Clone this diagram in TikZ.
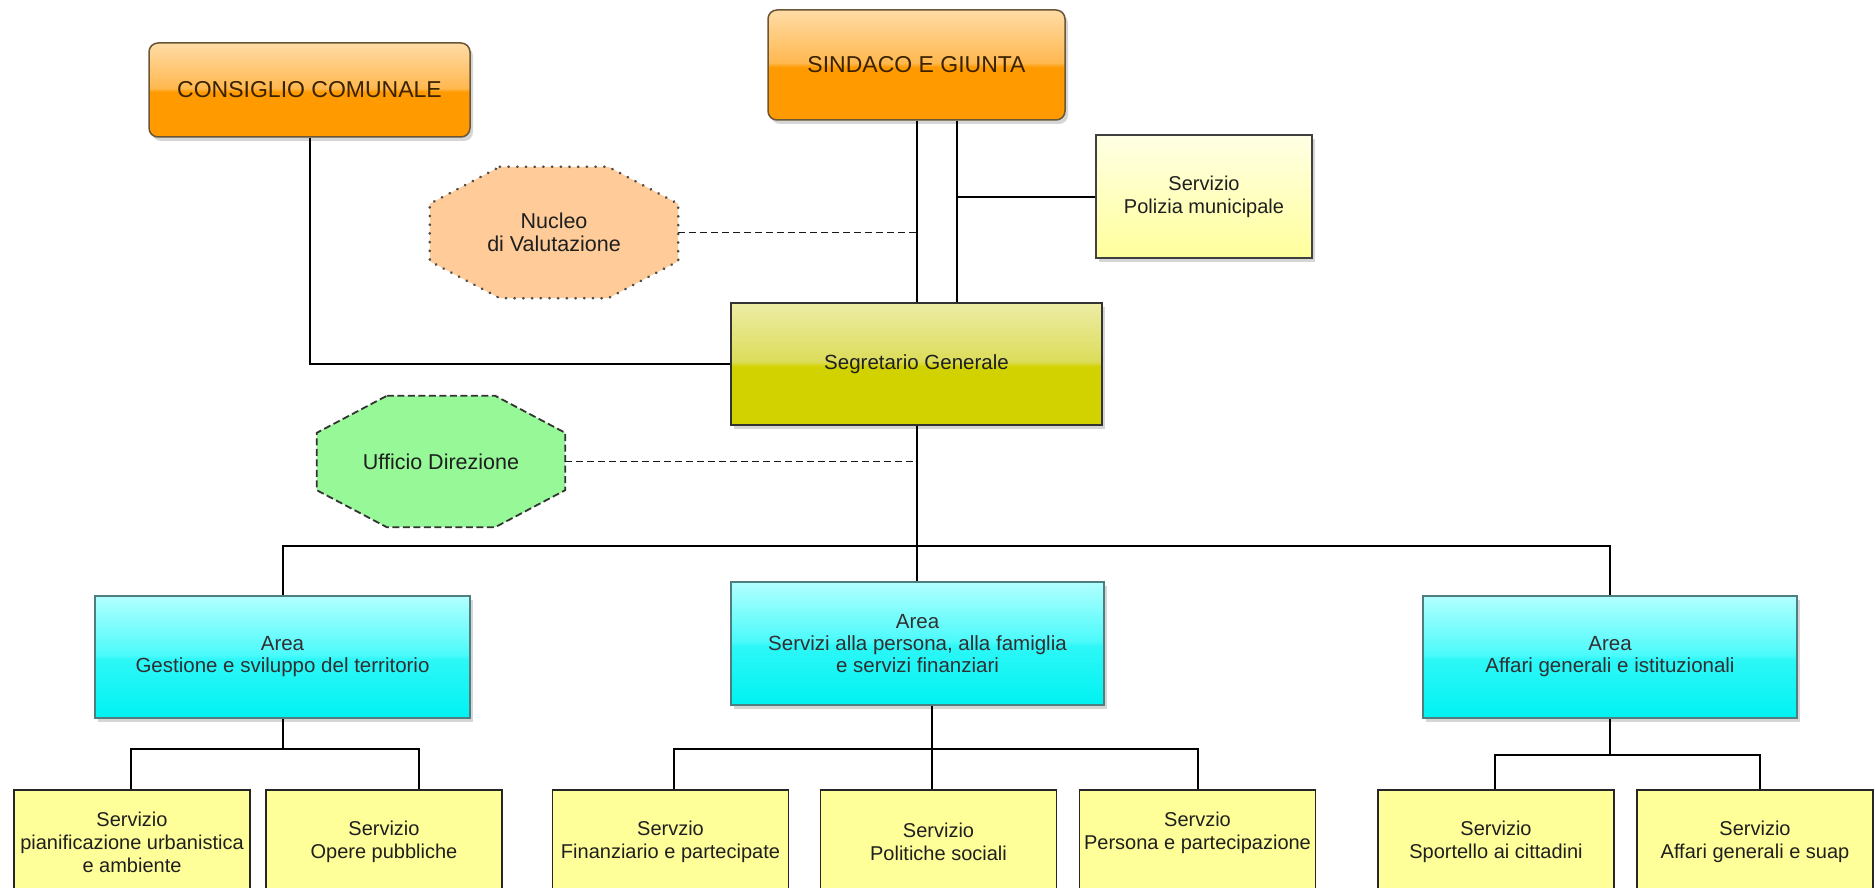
\documentclass[tikz,border=0pt]{standalone}
\usepackage{fontspec}
\setmainfont{Liberation Sans}
\usetikzlibrary{calc,shadows}
\pgfdeclarelayer{back}
\pgfdeclarelayer{bg}
\pgfsetlayers{back,bg,main}

\definecolor{otop}{HTML}{FFDCA6}
\definecolor{omid}{HTML}{FFB850}
\definecolor{obot}{HTML}{FF9A00}
\definecolor{obord}{HTML}{6A5535}
\definecolor{otext}{HTML}{3A2200}
\definecolor{stop}{HTML}{EDEDA6}
\definecolor{smid}{HTML}{DCDC5A}
\definecolor{sbot}{HTML}{D2D200}
\definecolor{ctop}{HTML}{B2FFFF}
\definecolor{cmid}{HTML}{4CFAFA}
\definecolor{cbot}{HTML}{00F2F2}
\definecolor{cbord}{HTML}{4E7E80}
\definecolor{ptop}{HTML}{FFFFE4}
\definecolor{pbot}{HTML}{FFFF9C}
\definecolor{svcfill}{HTML}{FFFF99}
\definecolor{nucfill}{HTML}{FFCC99}
\definecolor{ufffill}{HTML}{96F896}

\pgfdeclareverticalshading{orangeglass}{100bp}{color(0bp)=(obot); color(25bp)=(obot); color(49bp)=(obot); color(51bp)=(omid); color(75bp)=(otop); color(100bp)=(otop)}
\pgfdeclareverticalshading{oliveglass}{100bp}{color(0bp)=(sbot); color(25bp)=(sbot); color(49bp)=(sbot); color(51bp)=(smid); color(75bp)=(stop); color(100bp)=(stop)}
\pgfdeclareverticalshading{cyanglass}{100bp}{color(0bp)=(cbot); color(25bp)=(cbot); color(49bp)=(cmid!60!cbot); color(51bp)=(cmid); color(75bp)=(ctop); color(100bp)=(ctop)}

\tikzset{
  base/.style={align=center, inner sep=2pt, text=black!88,
    font=\fontsize{20}{23}\selectfont},
  shad/.style={drop shadow={shadow xshift=3pt, shadow yshift=-4pt, fill=black!45, opacity=0.35}},
  orangebox/.style={base, shad, rounded corners=9pt, draw=obord, line width=1.5pt,
    shading=orangeglass, text=otext, font=\fontsize{23}{27}\selectfont},
  olivebox/.style={base, shad, draw=black!80, line width=1.5pt, shading=oliveglass,
    font=\fontsize{20.5}{24}\selectfont},
  polbox/.style={base, shad, draw=black!75, line width=1.5pt, top color=ptop, bottom color=pbot},
  areabox/.style={base, shad, draw=cbord, line width=1.5pt, shading=cyanglass,
    text=black!80!cyan!40!black, font=\fontsize{20.5}{22}\selectfont},
  svc/.style={base, fill=svcfill, draw=black!85, line width=1.5pt,
    minimum width=236pt, minimum height=104pt},
  octtext/.style={base, minimum width=248pt, minimum height=131pt,
    font=\fontsize{21.5}{23}\selectfont},
  conn/.style={draw=black, line width=2pt},
  dconn/.style={draw=black!90, line width=1.8pt, dash pattern=on 7pt off 4pt},
}

\begin{document}
\begin{tikzpicture}[x=1pt,y=-1pt]
\begin{pgfonlayer}{back}
\fill[white] (0,0) rectangle (1874,888);
\end{pgfonlayer}
\useasboundingbox (0,0) rectangle (1874,888);

% top level
\node[orangebox, minimum width=321pt, minimum height=94pt] (cons) at (309.5,90) {CONSIGLIO COMUNALE};
\node[orangebox, minimum width=297pt, minimum height=110pt] (sind) at (916.5,65) {SINDACO E GIUNTA};
\node[polbox, minimum width=216pt, minimum height=123pt] (pol) at (1204,196.5) {Servizio\\Polizia municipale};
\node[octtext] (nuc) at (554,232.5) {Nucleo\\di Valutazione};
\node[olivebox, minimum width=371pt, minimum height=122pt] (seg) at (916.5,364) {Segretario Generale};
\node[octtext] (uff) at (441,461.5) {Ufficio Direzione};

% areas
\node[areabox, minimum width=375pt, minimum height=122pt] (a1) at (282.5,657) {Area\\Gestione e sviluppo del territorio};
\node[areabox, minimum width=373pt, minimum height=123pt] (a2) at (917.5,643.5) {Area\\Servizi alla persona, alla famiglia\\e servizi finanziari};
\node[areabox, minimum width=374pt, minimum height=122pt] (a3) at (1610,657) {Area\\Affari generali e istituzionali};

% services
\node[svc] (b1) at (132,842) {Servizio\\pianificazione urbanistica\\e ambiente};
\node[svc] (b2) at (384,842) {Servizio\\Opere pubbliche};
\node[svc] (b3) at (670.5,842) {Servzio\\Finanziario e partecipate};
\node[svc] (b4) at (938.5,842) {Servizio\\Politiche sociali};
\node[svc] (b5) at (1197.5,842) {Servzio\\Persona e partecipazione\\[0pt]\mbox{}};
\node[svc] (b6) at (1496,842) {Servizio\\Sportello ai cittadini};
\node[svc] (b7) at (1755,842) {Servizio\\Affari generali e suap};

% octagons
\begin{pgfonlayer}{bg}
\draw[fill=nucfill, draw=black!70, line width=2.8pt, dash pattern=on 0.2pt off 8.5pt, line cap=round]
  ($(nuc.north west)+(70,0)$) -- ($(nuc.north east)+(-70,0)$) -- ($(nuc.north east)+(0,37)$)
  -- ($(nuc.south east)+(0,-37)$) -- ($(nuc.south east)+(-70,0)$) -- ($(nuc.south west)+(70,0)$)
  -- ($(nuc.south west)+(0,-37)$) -- ($(nuc.north west)+(0,37)$) -- cycle;
\draw[fill=ufffill, draw=black!80, line width=1.8pt, dash pattern=on 7pt off 3.5pt]
  ($(uff.north west)+(70,0)$) -- ($(uff.north east)+(-70,0)$) -- ($(uff.north east)+(0,37)$)
  -- ($(uff.south east)+(0,-37)$) -- ($(uff.south east)+(-70,0)$) -- ($(uff.south west)+(70,0)$)
  -- ($(uff.south west)+(0,-37)$) -- ($(uff.north west)+(0,37)$) -- cycle;
\end{pgfonlayer}

% helper coordinates
\coordinate (l1) at (917,0);
\coordinate (l2) at (957,0);
\coordinate (bus) at (917,546);
\coordinate (s1a) at (131,749);
\coordinate (s1b) at (419,749);
\coordinate (s2a) at (674,749);
\coordinate (s2m) at (932,749);
\coordinate (s2b) at (1198,749);
\coordinate (s3a) at (1495,755);
\coordinate (s3b) at (1760,755);

% connectors
\draw[conn] (cons.south) |- (seg.west);
\draw[conn] (sind.south -| l1) -- (seg.north -| l1);
\draw[conn] (sind.south -| l2) -- (seg.north -| l2);
\draw[conn] (pol.west) -- (pol.west -| l2);
\draw[dconn] (nuc.east) -- (nuc.east -| l1);
\draw[conn] (seg.south) -- (a2.north -| seg.south);
\draw[dconn] (uff.east) -- (uff.east -| seg.south);
\draw[conn] (a1.north) -- (a1.north |- bus) -- (a3.north |- bus) -- (a3.north);

\draw[conn] (a1.south) -- (a1.south |- s1a);
\draw[conn] (b1.north -| s1a) -- (s1a) -- (s1b) -- (b2.north -| s1b);

\draw[conn] (a2.south -| s2m) -- (s2m);
\draw[conn] (b3.north -| s2a) -- (s2a) -- (s2b) -- (b5.north -| s2b);
\draw[conn] (s2m) -- (b4.north -| s2m);

\draw[conn] (a3.south) -- (a3.south |- s3a);
\draw[conn] (b6.north -| s3a) -- (s3a) -- (s3b) -- (b7.north -| s3b);
\end{tikzpicture}
\end{document}
